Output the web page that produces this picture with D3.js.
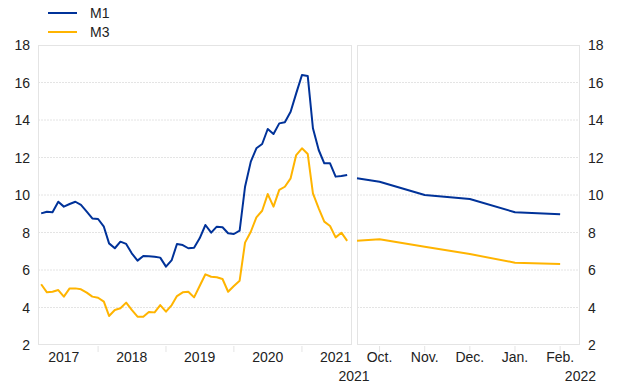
<!DOCTYPE html>
<html>
<head>
<meta charset="utf-8">
<script src="https://cdn.jsdelivr.net/npm/d3@7"></script>
<style>
  body { margin: 0; background: #fff; }
  text { font-family: "Liberation Sans", Arial, sans-serif; fill: #222; }
</style>
</head>
<body>
<svg id="chart" width="620" height="387"></svg>
<script>
// monthly growth rates, Mar 2017 - Sep 2021
var m1Hist = [9.02, 9.11, 9.08, 9.64, 9.38, 9.52, 9.64, 9.47, 9.11, 8.75,
  8.72, 8.31, 7.42, 7.16, 7.51, 7.39, 6.89, 6.5, 6.75, 6.73,
  6.71, 6.66, 6.18, 6.53, 7.39, 7.33, 7.16, 7.19, 7.69, 8.4,
  7.99, 8.31, 8.28, 7.96, 7.92, 8.1, 10.44, 11.78, 12.49, 12.72,
  13.52, 13.25, 13.82, 13.88, 14.44, 15.42, 16.4, 16.35, 13.56, 12.4,
  11.69, 11.69, 10.98, 11.01, 11.07];
var m3Hist = [5.24, 4.81, 4.84, 4.93, 4.58, 5.02, 5.02, 4.97, 4.79, 4.58,
  4.52, 4.31, 3.55, 3.87, 3.96, 4.26, 3.87, 3.51, 3.51, 3.76,
  3.74, 4.13, 3.78, 4.13, 4.61, 4.81, 4.84, 4.54, 5.15, 5.77,
  5.64, 5.61, 5.52, 4.84, 5.15, 5.43, 7.46, 8.04, 8.81, 9.16,
  10.05, 9.38, 10.27, 10.44, 10.89, 12.13, 12.49, 12.19, 10.09, 9.29,
  8.58, 8.35, 7.74, 7.99, 7.55];
var histStart = new Date(2017, 2, 1);
var yearLabels = ['2017', '2018', '2019', '2020', '2021'];

// right panel: Sep 2021 -> Feb 2022
var monthLabels = ['Oct.', 'Nov.', 'Dec.', 'Jan.', 'Feb.'];
var rightIdx = [-0.5, 0, 1, 2, 3, 4];
var m1Right = [10.89, 10.71, 10.0, 9.79, 9.08, 8.97];
var m3Right = [7.56, 7.64, 7.24, 6.85, 6.39, 6.32];

var yTicks = [2, 4, 6, 8, 10, 12, 14, 16, 18];

var BLUE = '#003299', YELLOW = '#ffb400', GRID = '#e4e4e4';

var svg = d3.select('#chart');

var y = d3.scaleLinear().domain([2, 18]).range([345, 45]);

var xL = d3.scaleTime()
  .domain([new Date(2017, 1, 12), new Date(2021, 8, 27)])
  .range([38, 352]);
var xR = d3.scaleLinear().domain([-0.5, 4.44]).range([357, 580]);

var dates = d3.timeMonth.range(histStart, d3.timeMonth.offset(histStart, m1Hist.length));

// gridlines + panel frames
[[38, 352], [357, 580]].forEach(function(r) {
  svg.append('g').selectAll('line').data(yTicks.slice(1, -1)).enter()
    .append('line')
    .attr('x1', r[0]).attr('x2', r[1])
    .attr('y1', d => y(d)).attr('y2', d => y(d))
    .attr('stroke', GRID)
    .attr('stroke-dasharray', '2,1');
  svg.append('rect')
    .attr('x', r[0] + 0.5).attr('y', y(18) + 0.5)
    .attr('width', r[1] - r[0] - 1).attr('height', y(2) - y(18) - 1)
    .attr('fill', 'none')
    .attr('stroke', GRID);
});

// left axis labels
svg.append('g').selectAll('text').data(yTicks).enter()
  .append('text')
  .attr('x', 30).attr('y', d => y(d) + 5)
  .attr('text-anchor', 'end')
  .attr('font-size', '14px')
  .text(d => d);

// right axis labels
svg.append('g').selectAll('text').data(yTicks).enter()
  .append('text')
  .attr('x', 588).attr('y', d => y(d) + 5)
  .attr('font-size', '14px')
  .text(d => d);

// year ticks + labels
var yearStarts = yearLabels.map(d => new Date(+d, 0, 1));
svg.append('g').selectAll('line').data(yearStarts.slice(1)).enter()
  .append('line')
  .attr('x1', d => xL(d)).attr('x2', d => xL(d))
  .attr('y1', 346).attr('y2', 352)
  .attr('stroke', GRID);
svg.append('g').selectAll('text').data(yearLabels).enter()
  .append('text')
  .attr('x', d => xL(new Date(+d, 6, 1)))
  .attr('y', 362)
  .attr('text-anchor', 'middle')
  .attr('font-size', '14px')
  .text(d => d);

// month ticks + labels
svg.append('g').selectAll('line').data(d3.range(monthLabels.length)).enter()
  .append('line')
  .attr('x1', d => xR(d)).attr('x2', d => xR(d))
  .attr('y1', 346).attr('y2', 352)
  .attr('stroke', GRID);
svg.append('g').selectAll('text').data(monthLabels).enter()
  .append('text')
  .attr('x', (d, i) => xR(i))
  .attr('y', 362)
  .attr('text-anchor', 'middle')
  .attr('font-size', '14px')
  .text(d => d);
svg.append('text').attr('x', 354).attr('y', 381)
  .attr('text-anchor', 'middle').attr('font-size', '14px').text('2021');
svg.append('text').attr('x', 596).attr('y', 381)
  .attr('text-anchor', 'end').attr('font-size', '14px').text('2022');

// lines
var lineL = d3.line().x((d, i) => xL(dates[i])).y(d => y(d));
var lineR = d3.line().x((d, i) => xR(rightIdx[i])).y(d => y(d));

[[m3Hist, m3Right, YELLOW], [m1Hist, m1Right, BLUE]].forEach(function(s) {
  svg.append('path').datum(s[0])
    .attr('d', lineL)
    .attr('fill', 'none').attr('stroke', s[2]).attr('stroke-width', 2)
    .attr('stroke-linejoin', 'round');
  svg.append('path').datum(s[1])
    .attr('d', lineR)
    .attr('fill', 'none').attr('stroke', s[2]).attr('stroke-width', 2)
    .attr('stroke-linejoin', 'round');
});

// legend
var legend = svg.append('g');
[['M1', BLUE, 13], ['M3', YELLOW, 32]].forEach(function(l) {
  legend.append('line')
    .attr('x1', 48).attr('x2', 77)
    .attr('y1', l[2]).attr('y2', l[2])
    .attr('stroke', l[1]).attr('stroke-width', 2);
  legend.append('text')
    .attr('x', 90).attr('y', l[2] + 5)
    .attr('font-size', '14px')
    .text(l[0]);
});
</script>
</body>
</html>
